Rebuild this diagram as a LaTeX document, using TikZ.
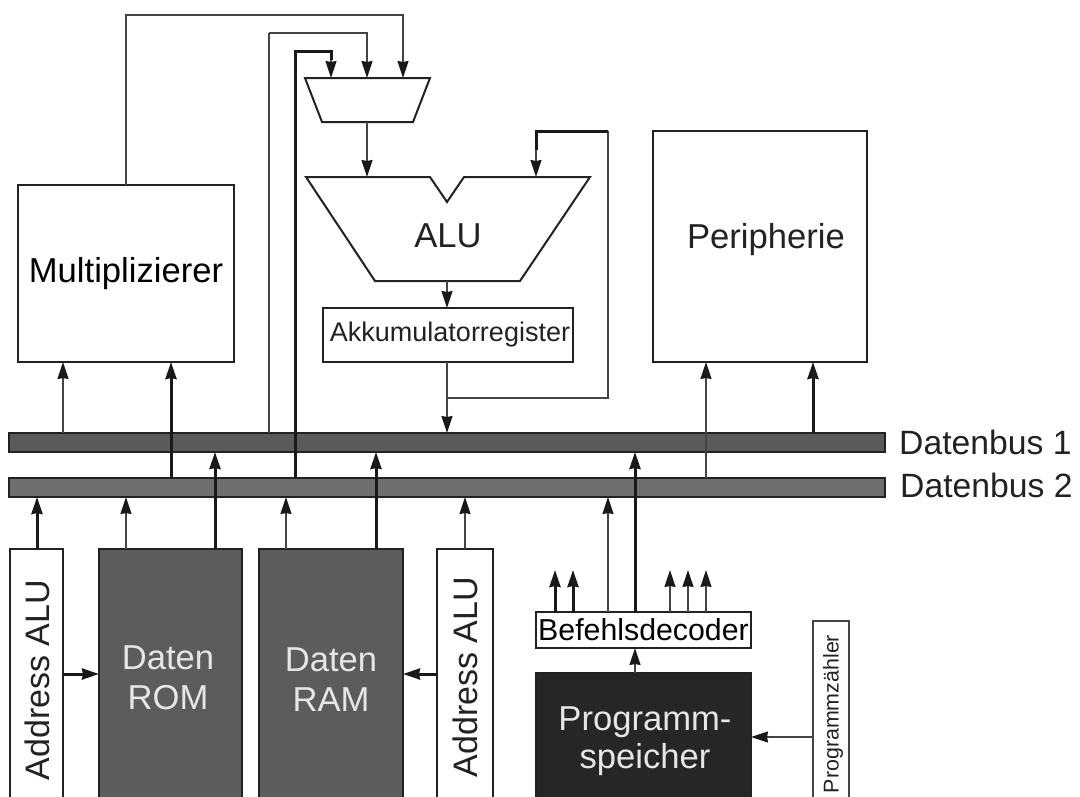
\documentclass[tikz,border=0pt]{standalone}
\usepackage{fontspec}
\setmainfont{Liberation Sans}
\usepackage{xcolor}
\usetikzlibrary{positioning, arrows.meta}
\definecolor{inkdark}{HTML}{222222}
\definecolor{inkthin}{HTML}{444444}
\definecolor{busone}{HTML}{5A5A5A}
\definecolor{bustwo}{HTML}{6E6E6E}
\definecolor{memfill}{HTML}{5C5C5C}
\definecolor{progfill}{HTML}{262626}
\definecolor{memtext}{HTML}{E6E6E6}

\begin{document}
\begin{tikzpicture}[x=1pt, y=-1pt, font=\fontsize{34.6}{40}\selectfont,
  >={Stealth[length=17pt, width=11pt, inset=1pt, color=black!90]},
  bx/.style={draw=inkdark, line width=2pt, fill=white, anchor=north west,
             inner sep=0pt, outer sep=0pt, align=center},
  mem/.style={bx, fill=memfill, text=memtext},
  bus/.style={bx, line width=1.8pt},
  lbl/.style={inner sep=0pt, align=center, text=inkdark},
  memlbl/.style={inner sep=0pt, align=center, text=memtext},
  addrlbl/.style={lbl, rotate=90, font=\fontsize{34}{40}\selectfont},
  s/.style={draw=inkthin, line width=1.3pt},
  t/.style={draw=black!90, line width=3pt}]
\useasboundingbox (0,0) rectangle (1080,796);
\clip (0,0) rectangle (1080,796);
% Buses come first, the lines run across them.
\node[bus, fill=busone, line width=2.6pt, minimum width=876pt, minimum height=19pt] (bus1) at (9,433) {};
\node[bus, fill=bustwo, line width=1.2pt, minimum width=876pt, minimum height=19pt] (bus2) at (9,478) {};
\node[lbl, right=14pt of bus1, font=\fontsize{33.7}{40}\selectfont] (bus1lbl) {Datenbus 1};
\node[lbl, right=15pt of bus2, yshift=2pt, font=\fontsize{33.7}{40}\selectfont] (bus2lbl) {Datenbus 2};
% Upper row.
\node[bx, minimum width=216pt, minimum height=177pt] (mult) at (18,185) {Multiplizierer};
\node[bx, minimum width=214pt, minimum height=231pt] (periph) at (653,131) {};
\node[lbl] (periphlbl) at (766,240) {Peripherie};
% Multiplexer and ALU.
\draw[bx] (305,78)--(430,78)--(413,122)--(322,122)--cycle;
\draw[bx] (306,177)--(430,177)--(447,202)--(464,177)--(590,177)--(520,281)--(375,281)--cycle;
\node[lbl] (alu) at (448,236) {ALU};
\node[bx, minimum width=250pt, minimum height=54pt] (akku) at (323,308) {};
\node[lbl, font=\fontsize{27}{32}\selectfont] (akkulbl) at (450,335) {Akkumulatorregister};
% Data memories and their address units; these run past the lower edge.
\node[bx, minimum width=53pt, minimum height=260pt] (addrA) at (10,549) {};
\node[addrlbl] (addrAlbl) at (37,680) {Address ALU};
\node[mem, minimum width=143pt, minimum height=260pt] (rom) at (99,549) {};
\node[memlbl] (romlbl) at (168,678) {Daten\\ROM};
\node[mem, minimum width=144pt, minimum height=260pt] (ram) at (259,549) {};
\node[memlbl] (ramlbl) at (331,680) {Daten\\RAM};
\node[bx, minimum width=56pt, minimum height=260pt] (addrB) at (437,549) {};
\node[addrlbl] (addrBlbl) at (465,677) {Address ALU};
% Program side.
\node[bx, minimum width=215pt, minimum height=36pt, font=\fontsize{30.3}{34}\selectfont]
  (decoder) at (536,612) {Befehlsdecoder};
\node[bx, fill=progfill, minimum width=215pt, minimum height=140pt] (prog) at (536,673) {};
\node[memlbl, font=\fontsize{34.6}{38}\selectfont] (proglbl) at (645,741) {Programm-\\speicher};
\node[bx, s, minimum width=36pt, minimum height=190pt] (pc) at (813,621) {};
\node[lbl, rotate=90, font=\fontsize{21.4}{25}\selectfont] (pclbl) at (833,714) {Programmzähler};
% Ports on the boxes.
\coordinate (muxA) at (331,78);
\coordinate (muxB) at (367,78);
\coordinate (muxC) at (403,78);
\coordinate (muxOut) at (367,122);
\coordinate (aluA) at (367,177);
\coordinate (aluB) at (536,177);
\coordinate (aluOut) at (447,281);
\coordinate (akkuIn) at (447,308);
\coordinate (akkuOut) at (447,362);
\coordinate (fork) at (447,398);
\coordinate (multA) at (63,362);
\coordinate (multB) at (171,362);
\coordinate (multOut) at (126,185);
\coordinate (periphA) at (706,362);
\coordinate (periphB) at (813,362);
\coordinate (busA) at (269,433);
\coordinate (busB) at (295,478);
\coordinate (romA) at (126,549);
\coordinate (romB) at (215,549);
\coordinate (ramA) at (286,549);
\coordinate (ramB) at (376,549);
\coordinate (addrAout) at (37,549);
\coordinate (addrBout) at (465,549);
\coordinate (romIn) at (99,674);
\coordinate (ramIn) at (403,674);
\coordinate (progIn) at (751,737);
% Feedback lines over the top.
\draw[s,->] (multOut)--(126,15)-|(muxC);
\draw[s] (busA)--(269,33);
\draw[s, line width=2pt] (269,33)-|(367,50);
\draw[s,->] (367,50)--(muxB);
\draw[t] (busB)|-(331,51)--(331,60);
\draw[s,->] (331,60)--(muxA);
\draw[s,->] (muxOut)--(aluA);
\draw[s,->] (aluOut)--(akkuIn);
\draw[s,->] (akkuOut)--(akkuOut|-bus1.north);
\draw[s] (fork)-|(608,131);
\draw[t] (608,131)-|(536,150);
\draw[s,->] (536,150)--(aluB);
% Upper row from the buses.
\draw[s,->] (multA|-bus1.north)--(multA);
\draw[t,->] (multB|-bus2.north)--(multB);
\draw[s,->] (periphA|-bus2.north)--(periphA);
\draw[t,->] (periphB|-bus1.north)--(periphB);
% Lower row to the buses.
\draw[t,->] (addrAout)--(addrAout|-bus2.south);
\draw[s,->] (romA)--(romA|-bus2.south);
\draw[t,->] (romB)--(romB|-bus1.south);
\draw[s,->] (ramA)--(ramA|-bus2.south);
\draw[t,->] (ramB)--(ramB|-bus1.south);
\draw[s,->] (addrBout)--(addrBout|-bus2.south);
\draw[t,->] (addrA.east|-romIn)--(romIn);
\draw[t,->] (addrB.west|-ramIn)--(ramIn);
% Decoder outputs.
\draw[s,->] (608,612)--(608,612|-bus2.south);
\draw[t,->] (635,612)--(635,612|-bus1.south);
\foreach \px/\st in {555/t,573/t,670/s,688/s,706/s}
  \draw[\st,->] (\px,612)--(\px,570);
\draw[s,->] (prog.north-|635,0)--(635,648);
\draw[s,->] (pc.west|-progIn)--(progIn);
\end{tikzpicture}
\end{document}
